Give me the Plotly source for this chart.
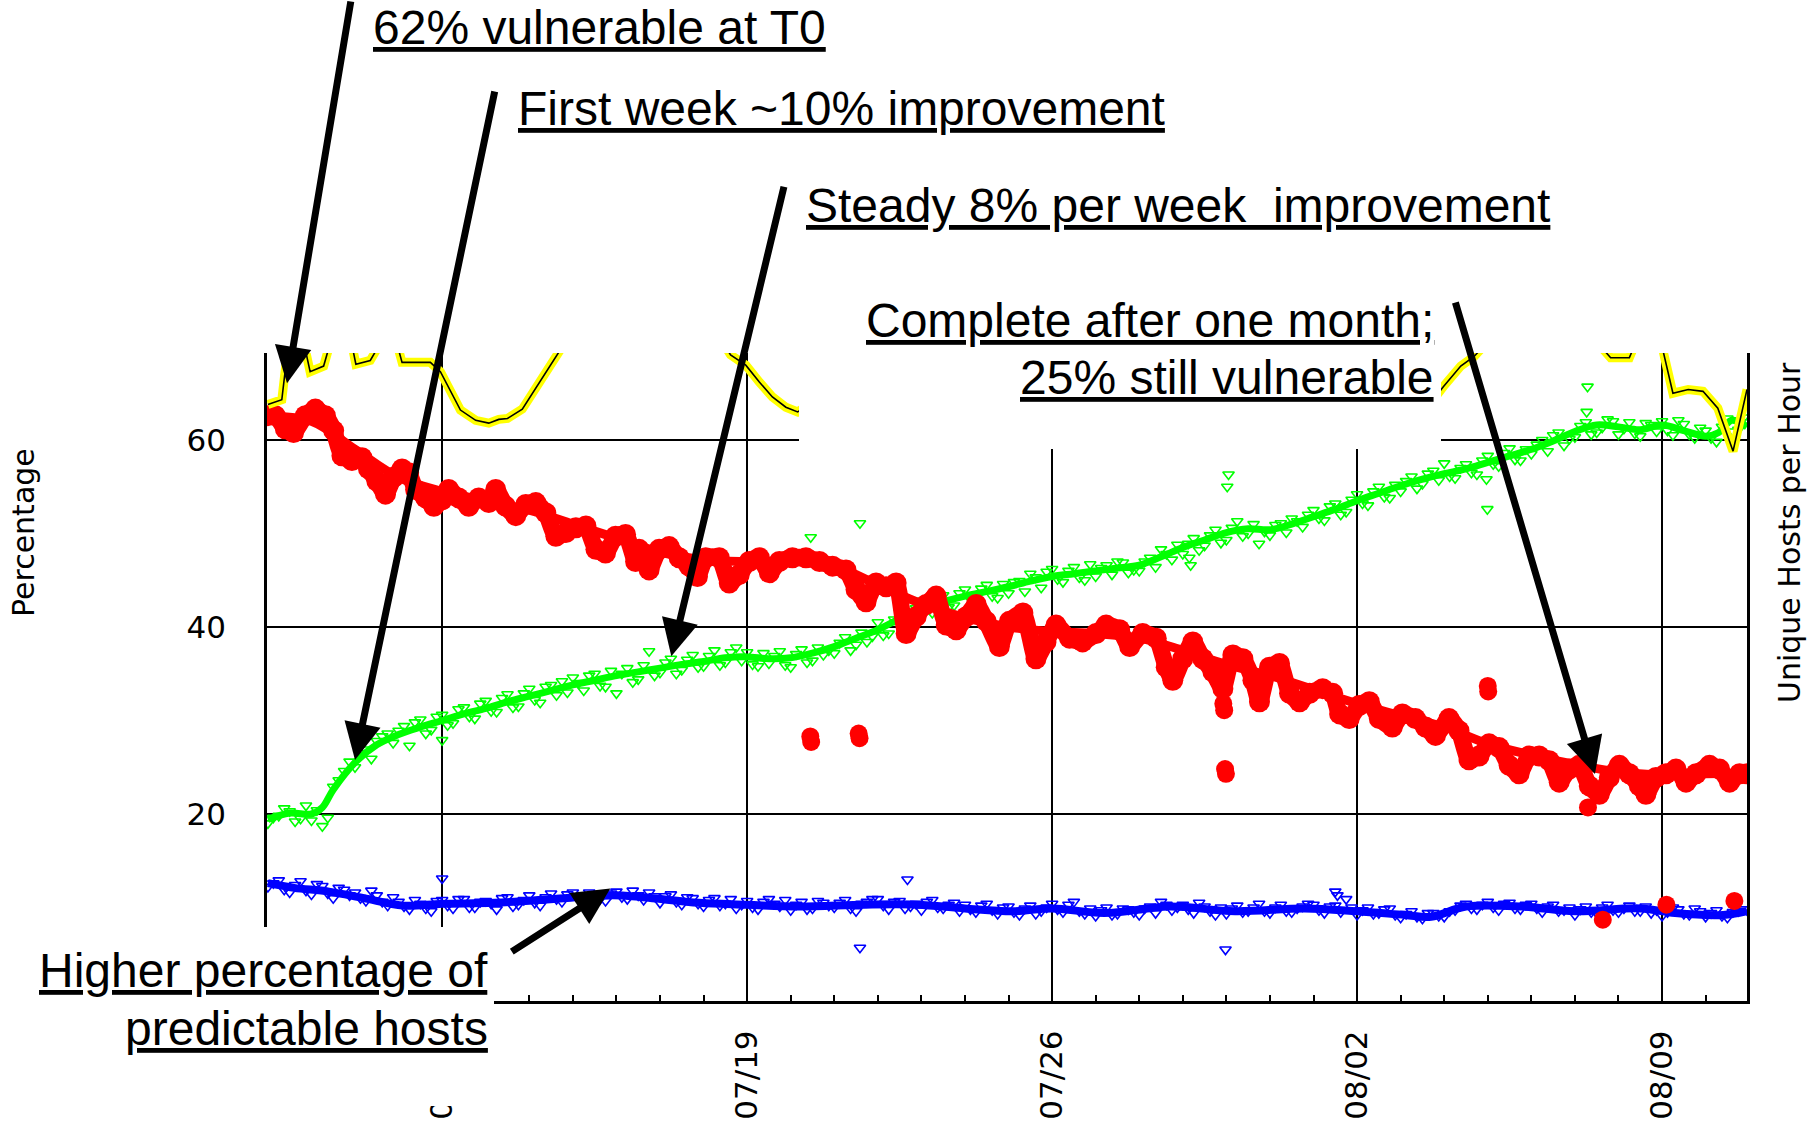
import numpy as np
import pandas as pd
import plotly.graph_objects as go

START = pd.Timestamp("2008-07-08 00:00")

# ---------------- data (day offsets from 07/08 00:00, values in %) ----------------
red_day = [0.0, 0.17, 0.4, 0.59, 0.86, 1.09, 1.32, 1.51, 1.7, 1.93,
           2.16, 2.31, 2.5, 2.7, 2.89, 3.08, 3.23, 3.39, 3.62, 3.81,
           4.0, 4.15, 4.38, 4.61, 4.84, 5.07, 5.23, 5.46, 5.69, 5.92,
           6.15, 6.38, 6.61, 6.84, 7.07, 7.3, 7.53, 7.75, 7.98, 8.21,
           8.44, 8.52, 8.75, 8.98, 9.21, 9.44, 9.67, 9.86, 10.05, 10.36,
           10.59, 10.82, 11.05, 11.28, 11.51, 11.74, 12.04, 12.35, 12.66, 12.96,
           13.27, 13.5, 13.73, 13.96, 14.19, 14.42, 14.65, 14.88, 15.11, 15.34,
           15.57, 15.8, 16.03, 16.26, 16.49, 16.79, 17.02, 17.33, 17.63, 17.86,
           18.09, 18.4, 18.7, 19.01, 19.24, 19.55, 19.78, 20.08, 20.39, 20.62,
           20.77, 21.0, 21.23, 21.46, 21.69, 21.92, 22.15, 22.38, 22.61, 22.76,
           22.99, 23.22, 23.45, 23.68, 23.91, 24.21, 24.44, 24.6, 24.82, 25.05,
           25.28, 25.51, 25.81, 26.04, 26.34, 26.57, 26.8, 27.11, 27.34, 27.57,
           27.8, 28.03, 28.26, 28.49, 28.72, 28.95, 29.18, 29.41, 29.64, 29.87,
           30.1, 30.33, 30.56, 30.79, 31.02, 31.25, 31.48, 31.63, 31.86, 32.09,
           32.32, 32.55, 32.78, 33.09, 33.32, 33.55, 33.78, 33.95]
red_pct = [62.6, 62.6, 61.2, 60.8, 62.6, 63.3, 62.6, 61.0, 58.3, 57.8,
           58.1, 56.9, 55.6, 54.2, 56.0, 56.9, 56.5, 54.7, 53.8, 52.9,
           53.6, 54.7, 53.8, 52.9, 53.8, 53.3, 54.7, 52.9, 51.9, 53.1,
           53.3, 52.2, 49.7, 50.1, 50.6, 50.8, 48.3, 47.9, 49.7, 49.9,
           47.0, 48.3, 46.1, 48.3, 48.6, 47.4, 46.5, 45.4, 47.4, 47.4,
           44.7, 45.6, 47.0, 47.4, 45.8, 47.0, 47.4, 47.4, 47.0, 46.5,
           46.1, 44.0, 42.7, 44.7, 44.3, 44.7, 39.3, 41.1, 42.4, 43.3,
           40.2, 39.7, 41.1, 42.4, 40.6, 37.9, 40.6, 41.5, 36.6, 38.4,
           40.2, 38.8, 38.4, 39.3, 40.2, 39.7, 37.9, 39.3, 38.8, 35.7,
           34.3, 36.6, 38.4, 36.6, 35.2, 33.4, 37.0, 36.6, 34.3, 32.0,
           35.7, 36.1, 32.9, 32.0, 32.9, 33.4, 32.9, 30.7, 30.2, 31.6,
           32.0, 30.2, 29.3, 30.7, 30.2, 29.3, 28.4, 30.2, 28.9, 25.8,
           26.2, 27.5, 27.1, 25.2, 24.3, 26.2, 26.2, 25.7, 23.4, 24.8,
           25.2, 23.0, 22.1, 23.9, 25.2, 24.3, 23.0, 22.1, 23.9, 24.3,
           24.8, 23.4, 24.3, 25.2, 24.8, 23.4, 24.3, 24.3]
red_out_day = [12.45, 12.47, 13.56, 13.58, 21.93, 21.95, 21.97, 21.99, 28.0, 28.01,
               30.3, 30.64, 32.1, 33.66]
red_out_pct = [28.3, 27.7, 28.6, 28.1, 31.8, 31.1, 24.8, 24.3, 33.7, 33.1,
               20.7, 8.7, 10.3, 10.7]
red_trend_day = list(range(35))
red_trend_pct = [62.5, 62.0, 59.0, 56.0, 54.5, 53.5, 52.5, 51.0, 49.5, 48.0,
                 47.2, 47.0, 47.0, 46.5, 44.5, 42.5, 41.0, 40.0, 39.5, 39.3,
                 38.8, 37.5, 36.0, 34.8, 33.3, 31.8, 30.5, 29.3, 27.5, 26.3,
                 25.3, 24.5, 24.2, 24.3, 24.4]

# green: two 6-hourly sample sets (on the hour 00/06/12/18 and 03/09/15/21)
green_pts = [19.0, 19.8, 20.3, 19.5, 19.3, 18.7, 22.9, 24.6, 25.0, 26.9, 27.8, 28.6,
             28.9, 27.3, 30.1, 29.0, 30.6, 29.7, 31.4, 30.2, 32.1, 30.9, 32.8, 31.5,
             33.4, 31.9, 33.8, 34.2, 34.6, 33.2, 35.0, 33.6, 32.9, 35.6, 34.4, 37.4,
             35.1, 36.6, 35.4, 37.0, 35.8, 37.5, 36.2, 37.8, 37.3, 35.8, 36.1, 37.4,
             35.7, 37.6, 36.4, 37.0, 37.2, 38.9, 38.1, 38.4, 40.5, 39.3, 41.6, 41.0,
             42.8, 41.5, 43.4, 42.3, 44.0, 42.6, 44.5, 43.1, 43.6, 44.9, 45.7, 44.2,
             46.2, 44.8, 46.4, 45.0, 45.4, 46.6, 47.0, 45.8, 46.0, 47.4, 48.3, 47.2,
             47.8, 49.5, 48.7, 50.4, 49.3, 51.3, 50.0, 48.9, 49.8, 51.1, 51.6, 50.7,
             52.5, 51.4, 53.2, 52.3, 54.2, 53.0, 55.0, 53.8, 54.5, 56.1, 55.3, 56.7,
             57.5, 55.9, 57.4, 56.3, 58.3, 57.2, 59.1, 57.8, 58.5, 60.0, 60.5, 59.4,
             60.3, 61.9, 60.8, 62.2, 60.6, 61.9, 60.4, 61.6, 62.0, 60.5, 61.7, 60.2,
             61.0, 59.8, 62.3, 61.1, 61.9]
green_pts2 = [19.6, 20.6, 19.2, 20.9, 20.4, 19.6, 23.6, 25.6, 26.3, 25.9, 28.3, 27.6,
              29.4, 29.8, 28.6, 30.4, 29.5, 31.2, 30.4, 31.8, 31.0, 32.4, 31.4, 32.9,
              32.2, 33.6, 32.7, 33.0, 34.0, 34.8, 33.7, 35.3, 35.0, 34.1, 35.9, 34.8,
              36.2, 35.0, 36.5, 35.7, 36.9, 35.9, 37.3, 36.4, 36.0, 37.2, 36.9, 35.9,
              37.1, 36.2, 37.8, 37.5, 38.3, 37.5, 39.4, 39.0, 39.1, 40.8, 40.2, 42.0,
              41.9, 42.9, 42.1, 43.6, 43.0, 44.1, 43.3, 44.6, 44.8, 43.8, 45.3, 45.9,
              45.1, 46.0, 45.3, 46.7, 46.3, 45.6, 46.9, 46.1, 47.0, 46.4, 47.8, 48.8,
              48.9, 48.2, 49.8, 49.0, 50.6, 49.7, 51.0, 50.2, 50.9, 50.1, 51.3, 52.0,
              51.6, 52.9, 52.0, 53.6, 53.2, 54.5, 53.9, 55.2, 55.6, 54.8, 56.4, 55.7,
              56.1, 57.0, 56.5, 57.8, 57.4, 58.6, 57.9, 59.0, 59.5, 58.8, 60.8, 60.1,
              61.5, 60.6, 61.3, 62.0, 61.2, 60.7, 61.8, 60.9, 61.0, 62.1, 60.6, 61.3,
              60.2, 61.4, 60.9, 62.4]
green_out_day = [4.0, 12.46, 13.59, 21.15, 21.18, 22.02, 22.05, 27.97, 27.99, 30.27, 30.29]
green_out_pct = [27.9, 49.6, 51.1, 47.4, 46.6, 55.0, 56.3, 55.8, 52.6, 63.0, 65.7]
green_line_day = [0, 0.5, 1.0, 1.25, 1.5, 2.0, 2.5, 3.0, 3.5, 4.0, 4.5, 5.0, 5.5, 6.0,
                  6.5, 7.0, 7.5, 8.0, 8.5, 9.0, 9.5, 10.0, 10.5, 11.0, 11.5, 12.0,
                  12.5, 13.0, 13.5, 14.0, 14.5, 15.0, 15.5, 16.0, 16.5, 17.0, 17.5,
                  18.0, 18.5, 19.0, 19.5, 20.0, 20.5, 21.0, 21.5, 22.0, 22.5, 23.0,
                  23.5, 24.0, 24.5, 25.0, 25.5, 26.0, 26.5, 27.0, 27.5, 28.0, 28.5,
                  29.0, 29.5, 30.0, 30.5, 31.0, 31.5, 32.0, 32.5, 33.0, 33.3, 33.6, 33.95]
green_line_pct = [19.4, 20.1, 20.0, 20.7, 22.6, 25.5, 27.4, 28.5, 29.3, 30.0, 30.7, 31.3,
                  32.0, 32.6, 33.2, 33.8, 34.3, 34.8, 35.2, 35.6, 36.0, 36.3, 36.7, 36.8,
                  36.6, 36.7, 37.2, 37.9, 38.8, 39.7, 40.9, 42.0, 42.7, 43.3, 43.8, 44.3,
                  44.9, 45.4, 45.7, 46.0, 46.3, 46.6, 47.5, 48.5, 49.3, 50.1, 50.5, 50.4,
                  51.0, 51.8, 52.6, 53.5, 54.3, 55.1, 55.8, 56.4, 56.9, 57.6, 58.3, 59.0,
                  59.9, 60.9, 61.6, 61.4, 61.1, 61.6, 61.0, 60.4, 60.8, 62.1, 61.4]

blue_pts = [12.2, 12.9, 11.6, 12.8, 11.4, 12.3, 11.0, 11.9, 11.6, 10.7, 11.3, 10.2,
            10.6, 9.8, 10.4, 9.6, 10.8, 9.9, 10.9, 10.0, 10.7, 9.8, 11.1, 10.3,
            11.3, 10.2, 11.5, 10.6, 11.6, 10.8, 11.4, 10.7, 11.7, 10.9, 11.3, 11.6,
            10.5, 11.4, 10.3, 11.0, 10.1, 11.0, 10.4, 9.9, 10.7, 9.8, 10.9, 10.1,
            9.7, 10.6, 9.9, 10.5, 10.0, 10.8, 9.6, 10.6, 10.9, 9.8, 10.7, 10.1,
            9.7, 10.8, 9.9, 10.5, 10.3, 9.5, 10.4, 9.3, 10.1, 9.2, 10.2, 9.6,
            10.4, 9.5, 10.6, 9.3, 9.1, 10.0, 9.3, 9.8, 9.2, 10.1, 10.6, 9.7,
            10.3, 9.4, 10.1, 9.2, 9.3, 10.2, 9.6, 10.4, 9.4, 10.3, 9.5, 10.1,
            10.3, 9.4, 10.2, 10.9, 9.2, 10.0, 9.4, 9.9, 8.9, 9.6, 8.8, 9.4,
            9.0, 9.7, 10.4, 9.8, 10.6, 9.7, 10.5, 9.8, 10.4, 9.5, 10.3, 9.7,
            9.2, 10.1, 9.4, 10.3, 9.5, 10.2, 9.6, 9.4, 9.1, 10.0, 9.3, 9.9,
            9.0, 9.7, 8.9, 9.6, 9.4]
blue_pts2 = [12.6, 11.9, 12.4, 11.8, 12.5, 11.5, 12.1, 11.3, 11.0, 11.8, 10.6, 11.1,
             10.1, 10.8, 9.9, 10.7, 10.2, 10.9, 10.0, 10.6, 10.4, 11.0, 10.1, 10.8,
             10.5, 11.1, 10.9, 11.4, 11.0, 11.6, 10.9, 11.5, 11.1, 11.8, 10.8, 11.2,
             11.2, 10.6, 11.1, 10.4, 10.8, 10.2, 10.9, 10.3, 10.0, 10.6, 10.4, 10.8,
             10.3, 9.8, 10.7, 10.2, 10.5, 9.9, 10.4, 10.9, 10.2, 10.6, 9.9, 10.4,
             10.6, 10.0, 10.3, 9.6, 9.8, 10.2, 9.7, 10.0, 9.5, 9.9, 9.3, 10.0,
             9.8, 10.3, 9.6, 9.9, 9.7, 9.2, 9.9, 9.5, 9.9, 9.4, 10.3, 10.0,
             9.8, 10.5, 9.6, 10.0, 9.9, 9.5, 10.0, 9.6, 10.0, 9.6, 9.9, 10.4,
             9.7, 10.1, 9.5, 10.0, 9.7, 9.3, 9.8, 9.2, 9.3, 9.0, 9.4, 9.1,
             9.6, 10.2, 9.9, 10.3, 10.0, 10.4, 9.9, 10.3, 9.9, 10.1, 9.6, 10.0,
             9.8, 9.5, 10.0, 9.7, 9.9, 9.6, 10.1, 9.7, 9.5, 9.8, 9.2, 9.6,
             9.4, 9.1, 9.5, 9.8]
blue_out_day = [4.0, 13.59, 14.68, 21.98, 24.5, 24.55]
blue_out_pct = [13.1, 5.7, 13.0, 5.5, 11.7, 11.3]
blue_line_day = [0, 0.6, 1.4, 2.2, 3.1, 4.0, 5.2, 6.8, 7.9, 8.6, 9.9, 11.0, 12.2, 13.7,
                 14.9, 16.0, 17.1, 18.0, 19.2, 20.7, 22.2, 23.8, 25.0, 26.1, 26.7, 27.5,
                 28.8, 30.0, 31.5, 32.3, 33.4, 33.95]
blue_line_pct = [12.6, 12.1, 11.7, 11.0, 10.2, 10.4, 10.5, 11.0, 11.3, 11.1, 10.5, 10.3,
                 10.1, 10.3, 10.3, 9.9, 9.6, 9.9, 9.4, 10.1, 9.6, 9.9, 9.6, 9.2, 9.0,
                 10.1, 10.1, 9.6, 9.9, 9.4, 9.2, 9.6]

# unique hosts per hour (secondary axis)
hosts_day = [0.0, 0.32, 0.5, 0.75, 0.97, 1.28, 1.5, 1.85, 2.02, 2.35, 2.6, 2.95, 3.08,
             3.73, 3.96, 4.42, 4.77, 5.07, 5.3, 5.5, 5.84, 6.22, 6.53, 6.9, 7.5, 8.5,
             9.5, 10.3, 10.62, 10.97, 11.28, 11.58, 11.89, 12.16, 12.5, 13.0, 13.5,
             14.5, 15.2, 15.8, 16.8, 17.4, 18.0, 19.0, 19.5, 20.2, 21.2, 21.6, 22.2,
             23.2, 23.6, 24.3, 25.3, 25.7, 26.3, 26.7, 26.98, 27.38, 27.68, 27.9,
             28.5, 29.5, 30.4, 30.82, 31.25, 31.45, 31.8, 32.0, 32.25, 32.6, 32.94,
             33.28, 33.63, 33.95]
hosts_val = [6380, 6430, 7150, 7200, 6730, 6790, 7150, 7200, 6810, 6850, 7050, 7050,
             6830, 6830, 6730, 6320, 6210, 6180, 6220, 6230, 6330, 6600, 6820, 7100,
             7600, 7700, 7500, 7150, 6910, 6800, 6620, 6460, 6350, 6300, 6400, 6900,
             7300, 7200, 6700, 7300, 7400, 6800, 7300, 7400, 6900, 7300, 7400, 6800,
             7300, 7400, 6900, 7300, 7400, 6800, 6400, 6400, 6570, 6790, 6890, 7000,
             7500, 7600, 7100, 6880, 6880, 7100, 7100, 7000, 6500, 6540, 6520, 6340,
             5880, 6540]

y_ticks = [20, 40, 60]

# ---------------- layout geometry ----------------
W, H = 1815, 1126
L, R, T, B = 267, 68, 353, 125
PW, PH = W - L - R, H - T - B


def px(x):
    return (x - L) / PW


def py(y):
    return (H - B - y) / PH


def tdays(days):
    return START + pd.to_timedelta(np.asarray(days, dtype=float), unit="D")


RED, GREEN, BLUE = "#ff0000", "#00ff00", "#0000ff"
tri = lambda c: dict(symbol="triangle-down-open", size=10, color=c, line=dict(width=1.6, color=c))

fig = go.Figure()
# unique hosts per hour: yellow halo + black line
fig.add_trace(go.Scatter(x=tdays(hosts_day), y=hosts_val, yaxis="y2", mode="lines",
                         line=dict(color="#ffff00", width=9), hoverinfo="skip"))
fig.add_trace(go.Scatter(x=tdays(hosts_day), y=hosts_val, yaxis="y2", mode="lines",
                         line=dict(color="black", width=1.6)))
# blue
fig.add_trace(go.Scatter(x=tdays(blue_line_day), y=blue_line_pct, mode="lines",
                         line=dict(color=BLUE, width=8, shape="spline")))
fig.add_trace(go.Scatter(x=pd.date_range(START, periods=len(blue_pts), freq="6h"), y=blue_pts,
                         mode="markers", marker=tri(BLUE)))
fig.add_trace(go.Scatter(x=pd.date_range(START + pd.Timedelta(hours=3), periods=len(blue_pts2),
                                         freq="6h"), y=blue_pts2,
                         mode="markers", marker=tri(BLUE)))
fig.add_trace(go.Scatter(x=tdays(blue_out_day), y=blue_out_pct, mode="markers", marker=tri(BLUE)))
# green
fig.add_trace(go.Scatter(x=tdays(green_line_day), y=green_line_pct, mode="lines",
                         line=dict(color=GREEN, width=7, shape="spline")))
fig.add_trace(go.Scatter(x=pd.date_range(START, periods=len(green_pts), freq="6h"), y=green_pts,
                         mode="markers", marker=tri(GREEN)))
fig.add_trace(go.Scatter(x=pd.date_range(START + pd.Timedelta(hours=3), periods=len(green_pts2),
                                         freq="6h"), y=green_pts2,
                         mode="markers", marker=tri(GREEN)))
fig.add_trace(go.Scatter(x=tdays(green_out_day), y=green_out_pct, mode="markers",
                         marker=tri(GREEN)))
# red
fig.add_trace(go.Scatter(x=tdays(red_trend_day), y=red_trend_pct, mode="lines",
                         line=dict(color=RED, width=9, shape="spline")))
fig.add_trace(go.Scatter(x=tdays(red_day), y=red_pct, mode="lines+markers",
                         line=dict(color=RED, width=17, shape="spline", smoothing=0.6),
                         marker=dict(symbol="circle", size=21, color=RED)))
fig.add_trace(go.Scatter(x=tdays(red_out_day), y=red_out_pct, mode="markers",
                         marker=dict(symbol="circle", size=18, color=RED)))

fig.update_layout(
    width=W, height=H, showlegend=False,
    margin=dict(l=L, r=R, t=T, b=B, pad=0, autoexpand=False),
    paper_bgcolor="white", plot_bgcolor="white",
    xaxis=dict(type="date", range=[tdays([-0.02])[0], tdays([33.95])[0]], automargin=False,
               showline=True, linewidth=3, linecolor="black",
               showgrid=True, gridcolor="black", gridwidth=1.5, zeroline=False,
               tick0="2008-07-12", dtick=7 * 86400000, tickformat="%m/%d",
               ticks="inside", ticklen=6, tickwidth=2, tickcolor="black",
               tickangle=-90, tickfont=dict(family="DejaVu Sans", size=31, color="black"),
               ticklabelstandoff=14,
               minor=dict(dtick=86400000, tick0="2008-07-08", ticks="inside", ticklen=6,
                          tickwidth=2, tickcolor="black", showgrid=False)),
    yaxis=dict(range=[0, 69.3], tickvals=y_ticks, ticktext=[str(v) for v in y_ticks],
               automargin=False,
               showgrid=True, gridcolor="black", gridwidth=1.5, zeroline=False,
               showline=True, linewidth=2.5, linecolor="black", mirror=True,
               ticks="", tickfont=dict(family="DejaVu Sans", size=31, color="black"),
               ticklabelstandoff=32),
    yaxis2=dict(range=[0, 6930], overlaying="y", side="right", showgrid=False, automargin=False,
                showticklabels=False, ticks="", showline=False, zeroline=False),
)

# white panels behind the callout texts
fig.add_shape(type="rect", xref="paper", yref="paper", layer="above",
              x0=px(799), x1=px(1441), y0=py(449), y1=py(330),
              fillcolor="white", line=dict(width=0))
fig.add_shape(type="rect", xref="paper", yref="paper", layer="above",
              x0=px(-5), x1=px(494), y0=py(1106), y1=py(927),
              fillcolor="white", line=dict(width=0))

# axis titles
fig.add_annotation(text="Percentage", xref="paper", yref="paper", x=px(23), y=py(533),
                   xanchor="center", yanchor="middle", textangle=-90, showarrow=False,
                   font=dict(family="DejaVu Sans", size=30, color="black"))
fig.add_annotation(text="Unique Hosts per Hour", xref="paper", yref="paper", x=px(1789),
                   y=py(533), xanchor="center", yanchor="middle", textangle=-90,
                   showarrow=False, font=dict(family="DejaVu Sans", size=30, color="black"))

# callout texts
call_font = dict(family="Liberation Sans, Arial", size=48, color="black")
callouts = [
    ("62% vulnerable at T0", 371, 27, "left"),
    ("First week ~10% improvement", 516, 108, "left"),
    ("Steady 8% per week&nbsp; improvement", 804, 205, "left"),
    ("Complete after one month;", 1436, 320, "right"),
    ("25% still vulnerable", 1436, 378, "right"),
    ("Higher percentage of", 490, 970, "right"),
    ("predictable hosts", 490, 1028, "right"),
]
for txt, xp, yp, anc in callouts:
    fig.add_annotation(text="<u>" + txt + "</u>", xref="paper", yref="paper",
                       x=px(xp), y=py(yp), xanchor=anc, yanchor="middle",
                       showarrow=False, font=call_font)

# arrows: head at data point (day, %), tail offset in pixels
arrows = [
    (0.44, 66.06, 64, -388),
    (2.0, 25.78, 140, -670),
    (9.26, 36.87, 113, -471),
    (30.46, 24.28, -140, -473),
    (7.86, 12.02, -100, 64),
]
for d, v, ax, ay in arrows:
    fig.add_annotation(x=tdays([d])[0], y=v, xref="x", yref="y", text="",
                       showarrow=True, ax=ax, ay=ay, axref="pixel", ayref="pixel",
                       arrowhead=2, arrowsize=1.05, arrowwidth=7, arrowcolor="black",
                       standoff=0)

fig.write_html("out.html", config={"displayModeBar": False},
               post_script="document.body.style.margin='0';")
